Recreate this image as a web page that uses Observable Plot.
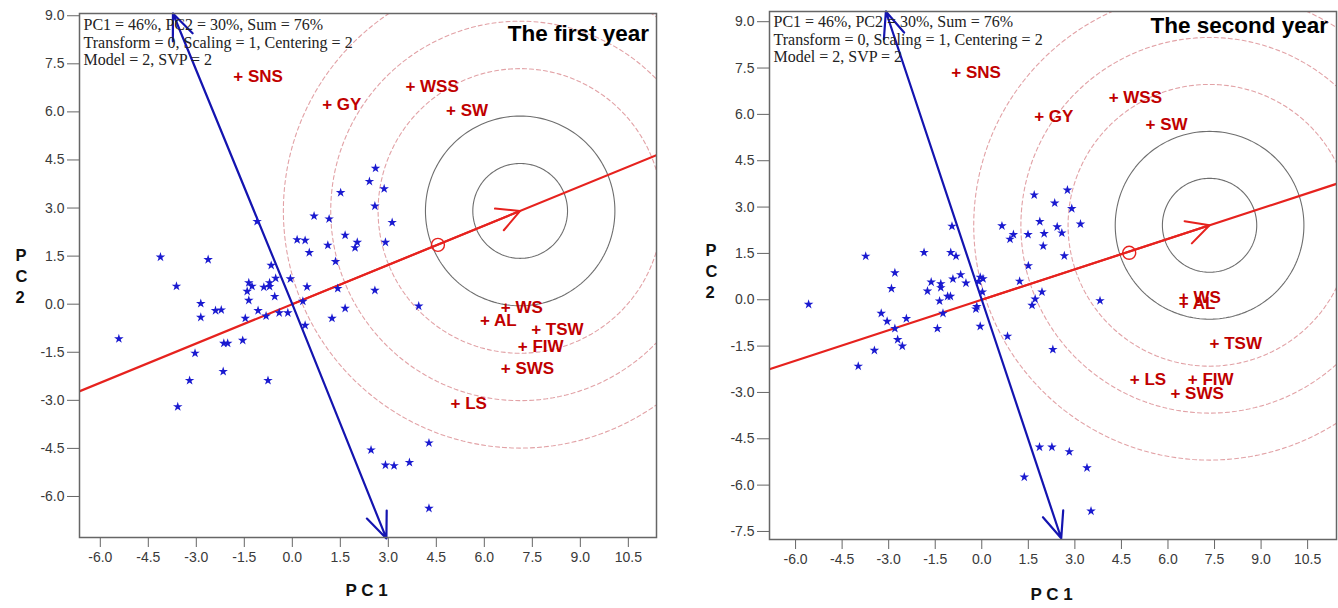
<!DOCTYPE html>
<html><head><meta charset="utf-8">
<script src="https://cdn.jsdelivr.net/npm/d3@7"></script>
<script src="https://cdn.jsdelivr.net/npm/@observablehq/plot@0.6"></script>
<style>
body{margin:0;background:#fff;}
#wrap{display:flex;width:1338px;height:608px;overflow:hidden;}
#wrap svg{display:block;flex:none;}
</style></head><body><div id="wrap"></div>
<script>
// ---------- data ----------
const traitNames = ["SNS","GY","WSS","SW","WS","AL","TSW","FIW","SWS","LS"];
const traitX1 = [-1.69, 1.09, 3.69, 4.96, 6.67, 6.02, 7.62, 7.20, 6.67, 5.10];
const traitY1 = [7.11, 6.23, 6.80, 6.05, -0.10, -0.52, -0.78, -1.32, -2.00, -3.10];
const traitX2 = [-0.82, 1.85, 4.25, 5.44, 6.51, 6.51, 7.50, 6.80, 6.24, 4.93];
const traitY2 = [7.34, 5.94, 6.55, 5.66, 0.08, -0.11, -1.41, -2.57, -3.05, -2.57];

const genoX1 = [-1.10,-4.12,-2.63,-3.62,-0.66,-0.52,-0.06,-1.36,-1.26,-1.41,-0.89,-0.71,-0.71,-0.55,-1.36,-2.86,-2.86,-2.40,-2.22,-1.07,-1.47,-0.82,-0.41,-0.14,-5.42,
  -2.14,-2.02,-1.55,-3.04,-2.16,-3.21,-0.76,-3.58,2.46,2.91,3.18,3.66,4.27,4.27,
  2.60,2.41,2.87,1.51,2.58,3.12,0.68,1.15,0.15,0.40,1.65,2.03,1.96,1.11,0.53,2.91,1.35,0.46,1.42,2.58,0.33,1.65,1.24,0.40,3.95];
const genoY1 = [2.58,1.47,1.39,0.56,1.21,0.81,0.79,0.67,0.56,0.40,0.53,0.67,0.55,0.24,0.12,0.02,-0.41,-0.20,-0.18,-0.20,-0.44,-0.37,-0.27,-0.27,-1.08,
  -1.22,-1.22,-1.13,-1.53,-2.10,-2.38,-2.38,-3.20,-4.55,-5.02,-5.04,-4.94,-4.33,-6.37,
  4.24,3.83,3.60,3.48,3.06,2.55,2.75,2.66,2.01,1.99,2.15,1.93,1.76,1.84,1.61,1.93,1.33,0.54,0.49,0.43,0.09,-0.13,-0.44,-0.66,-0.06];
const genoX2 = [-0.96,-3.74,-1.86,-1.00,-0.83,-2.80,-0.68,-0.93,-1.63,-1.32,-1.32,-0.51,-2.91,-1.75,-0.05,0.04,-0.10,0.02,-5.58,-1.10,-1.01,-1.36,-3.24,-3.05,-2.43,-1.25,-2.80,-1.43,-0.16,-0.19,-0.05,-2.71,-2.56,-3.46,-3.98,
  1.69,2.76,2.35,2.90,3.18,0.65,1.87,2.43,1.02,0.91,1.49,2.01,2.58,1.98,2.66,1.50,1.22,1.94,1.72,1.62,3.81,0.83,2.29,1.86,2.26,2.82,3.39,1.37,3.52];
const genoY2 = [2.38,1.41,1.53,1.53,1.41,0.87,0.81,0.67,0.57,0.52,0.39,0.54,0.36,0.28,0.73,0.68,0.59,0.25,-0.15,0.11,0.11,-0.04,-0.44,-0.70,-0.61,-0.44,-0.93,-0.93,-0.22,-0.30,-0.86,-1.29,-1.50,-1.64,-2.15,
  3.39,3.55,3.13,2.95,2.45,2.39,2.53,2.36,2.11,1.96,2.11,2.14,2.16,1.74,1.42,1.10,0.60,0.25,0.02,-0.18,-0.03,-1.18,-1.61,-4.77,-4.77,-4.92,-5.44,-5.74,-6.84];

// average-environment coordination: centre of the rings, ring radii, marked point, ordinate tips
const aecCenter1 = [7.12, 2.91];
const aecCenter2 = [7.34, 2.41];
const ringRadii1 = [1.48, 2.96, 4.44, 5.92, 7.40];
const ringRadii2 = [1.52, 3.04, 4.56, 6.08, 7.60];
const markPoint1 = [4.55, 1.85];
const markPoint2 = [4.75, 1.52];
const ordTips1 = [[-3.73, 9.07], [2.94, -7.31]];
const ordTips2 = [[-3.09, 9.33], [2.56, -7.72]];

const xTickVals = [-6.0,-4.5,-3.0,-1.5,0.0,1.5,3.0,4.5,6.0,7.5,9.0,10.5];
const yTickVals1 = [-6.0,-4.5,-3.0,-1.5,0.0,1.5,3.0,4.5,6.0,7.5,9.0];
const yTickVals2 = [-7.5,-6.0,-4.5,-3.0,-1.5,0.0,1.5,3.0,4.5,6.0,7.5,9.0];

const infoLines = "PC1 = 46%, PC2 = 30%, Sum = 76%\nTransform = 0, Scaling = 1, Centering = 2\nModel = 2, SVP = 2";
const titles = ["The first year", "The second year"];

// ---------- drawing ----------
const RED = "#e6221e", DARKRED = "#c00000", BLUE = "#1a1ad0", NAVY = "#1414b0";

function panel(o) {
  const geno = o.gx.map((x, i) => ({x, y: o.gy[i]}));
  const traits = o.tn.map((n, i) => ({name: n, x: o.tx[i], y: o.ty[i]}));
  const [cx, cy] = o.center;
  const ring = (r, k) => d3.range(0, 361, 2).map(a => ({k, x: cx + r * Math.cos(a * Math.PI / 180), y: cy + r * Math.sin(a * Math.PI / 180)}));
  const solid = o.rings.slice(0, 2).flatMap((r, k) => ring(r, k));
  const dashed = o.rings.slice(2).flatMap((r, k) => ring(r, k));
  const abscissa = [{x: -30 * cx, y: -30 * cy}, {x: 30 * cx, y: 30 * cy}];
  const ordArrows = o.ord.map(([x, y]) => ({x1: 0, y1: 0, x2: x, y2: y}));
  return Plot.plot({
    width: 669, height: 608,
    marginLeft: o.ml, marginRight: o.mr, marginTop: o.mt, marginBottom: o.mb,
    x: {domain: o.xd},
    y: {domain: o.yd},
    style: {fontFamily: "'Liberation Sans', Arial, sans-serif", fontSize: "14px", color: "#3a3a3a", background: "#fff", overflow: "visible"},
    marks: [
      Plot.line(dashed, {x: "x", y: "y", z: "k", stroke: "#e2a2a6", strokeWidth: 1.1, strokeDasharray: "4,3", clip: true}),
      Plot.line(solid, {x: "x", y: "y", z: "k", stroke: "#6e6e6e", strokeWidth: 1.1, clip: true}),
      Plot.line(abscissa, {x: "x", y: "y", stroke: RED, strokeWidth: 2.2, clip: true}),
      Plot.arrow([{x1: 0, y1: 0, x2: cx, y2: cy}], {x1: "x1", y1: "y1", x2: "x2", y2: "y2", stroke: RED, strokeWidth: 2, headLength: 19, headAngle: 55}),
      Plot.arrow(ordArrows, {x1: "x1", y1: "y1", x2: "x2", y2: "y2", stroke: NAVY, strokeWidth: 2.2, headLength: 19, headAngle: 45}),
      Plot.dot([{x: o.mark[0], y: o.mark[1]}], {x: "x", y: "y", r: 6.5, stroke: RED, fill: "none", strokeWidth: 1.4}),
      Plot.dot(geno, {x: "x", y: "y", symbol: "star", r: 3.0, fill: BLUE, stroke: "none"}),
      Plot.text(traits, {x: "x", y: "y", text: d => "+ " + d.name, textAnchor: "start", dx: -5, fill: DARKRED, fontWeight: "bold", fontSize: 17}),
      Plot.frame({stroke: "#666", strokeWidth: 1.5}),
      Plot.axisX({ticks: xTickVals, tickFormat: d => d.toFixed(1), tickSize: 10, tickPadding: 5, label: null, stroke: "#666", fill: "#3a3a3a"}),
      Plot.axisY({ticks: o.yt, tickFormat: d => d.toFixed(1), tickSize: 12, tickPadding: 3, label: null, stroke: "#666", fill: "#3a3a3a"}),
      Plot.text([infoLines], {frameAnchor: "top-left", textAnchor: "start", lineAnchor: "top", dx: 4, dy: o.infoDy, fontFamily: "'Liberation Serif', 'Times New Roman', serif", fontSize: 16, lineHeight: 1.09, fill: "#222"}),
      Plot.text([o.title], {frameAnchor: "top-right", textAnchor: "end", lineAnchor: "top", dx: o.titleDx, dy: o.titleDy, fontWeight: "bold", fontSize: 22.5, fill: "#000"}),
      Plot.text(["P C 1"], {frameAnchor: "bottom", lineAnchor: "middle", dx: -1.5, dy: o.xlabDy, fontWeight: "bold", fontSize: 17, fill: "#111"}),
      Plot.text(["P\nC\n2"], {frameAnchor: "left", lineAnchor: "middle", dx: o.ylabDx, dy: o.ylabDy, fontWeight: "bold", fontSize: 16.5, lineHeight: 1.25, fill: "#111"})
    ]
  });
}

const wrap = document.getElementById("wrap");
wrap.append(panel({
  gx: genoX1, gy: genoY1, tn: traitNames, tx: traitX1, ty: traitY1,
  center: aecCenter1, rings: ringRadii1, mark: markPoint1, ord: ordTips1,
  ml: 79, mr: 13, mt: 13, mb: 71, xd: [-6.65, 11.38], yd: [-7.28, 9.07], yt: yTickVals1,
  infoDy: 4.6, title: titles[0], titleDx: -7.5, titleDy: 11.7, xlabDy: 53, ylabDx: -64, ylabDy: 0
}));
wrap.append(panel({
  gx: genoX2, gy: genoY2, tn: traitNames, tx: traitX2, ty: traitY2,
  center: aecCenter2, rings: ringRadii2, mark: markPoint2, ord: ordTips2,
  ml: 100, mr: 2, mt: 11, mb: 69, xd: [-6.84, 11.43], yd: [-7.76, 9.33], yt: yTickVals2,
  infoDy: 3.6, title: titles[1], titleDx: -8.5, titleDy: 5.7, xlabDy: 55, ylabDx: -64, ylabDy: -5
}));
</script></body></html>
